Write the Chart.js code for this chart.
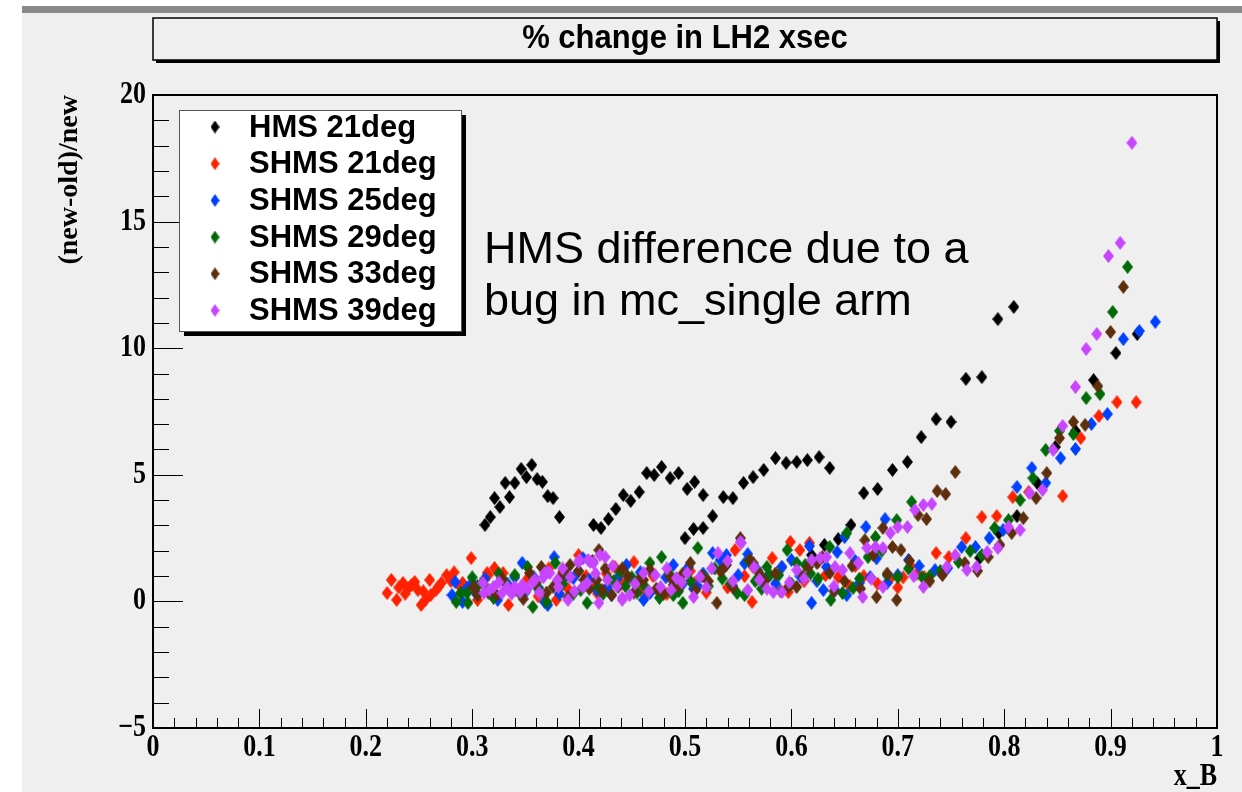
<!DOCTYPE html>
<html>
<head>
<meta charset="utf-8">
<script src="https://cdn.jsdelivr.net/npm/chart.js@4.4.1/dist/chart.umd.min.js"></script>
<style>
  html, body { margin: 0; padding: 0; background: #ffffff; overflow: hidden; }
  canvas { display: block; }
</style>
</head>
<body>
<canvas id="c" width="1242" height="792"></canvas>
<script>
// ---- values: relative change (new-old)/new versus x_B ----
const seriesNames = ['HMS 21deg', 'SHMS 21deg', 'SHMS 25deg', 'SHMS 29deg', 'SHMS 33deg', 'SHMS 39deg'];

const hmsX = [0.312,0.317,0.321,0.326,0.331,0.335,0.340,0.346,0.351,0.356,0.361,0.366,0.371,0.376,0.382,
  0.414,0.421,0.428,0.435,0.442,0.449,0.457,0.464,0.471,0.478,0.486,0.494,0.502,0.509,0.517,
  0.500,0.508,0.517,0.526,0.536,0.545,0.555,0.564,0.574,0.585,0.595,0.605,0.615,0.626,0.636,
  0.619,0.631,0.644,0.656,0.668,0.681,0.695,0.709,0.722,0.736,0.750,0.764,0.779,0.794,0.809,
  0.777,0.795,0.812,0.831,0.848,0.867,0.884,0.905,0.925];
const hmsY = [3.02,3.33,4.08,3.73,4.68,4.12,4.68,5.23,4.91,5.39,4.83,4.72,4.16,4.08,3.33,
  3.02,2.90,3.25,3.65,4.20,3.97,4.32,5.07,4.99,5.31,4.87,5.07,4.44,4.72,4.20,
  2.50,2.86,2.90,3.37,4.12,4.08,4.68,4.91,5.19,5.66,5.47,5.51,5.58,5.70,5.27,
  1.83,2.23,2.46,3.02,4.28,4.44,5.19,5.51,6.49,7.20,7.09,8.79,8.86,11.15,11.63,
  1.72,2.70,3.37,4.68,6.10,6.73,8.74,9.81,10.56];

const shms21X = [0.220,0.224,0.229,0.235,0.240,0.246,0.249,0.252,0.256,0.260,0.261,0.266,0.271,0.276,
  0.289,0.291,0.299,0.305,0.314,0.315,0.321,0.329,0.334,0.352,0.362,0.372,0.379,0.390,0.400,0.407,
  0.418,0.426,0.434,0.440,0.446,0.458,0.470,0.483,0.495,0.509,0.520,0.533,0.547,0.563,0.564,0.575,
  0.582,0.591,0.597,0.599,0.608,0.617,0.632,0.644,0.655,0.668,0.681,0.693,0.705,0.718,0.736,0.748,
  0.764,0.779,0.793,0.808,0.823,0.855,0.872,0.889,0.906,0.924,
  0.231,0.237,0.243,0.254,0.268,0.280,0.283,0.345,0.385,0.412,0.452,0.465,0.505,0.540,0.556,
  0.612,0.625,0.660,0.700,0.712,0.725,0.740];
const shms21Y = [0.33,0.85,0.06,0.73,0.53,0.77,0.45,-0.14,0.06,0.85,0.25,0.45,0.73,1.04,
  0.57,0.73,1.71,0.06,1.12,1.04,1.32,1.12,-0.14,0.90,0.20,1.30,0.06,0.50,1.83,1.00,
  0.30,1.10,1.36,0.70,0.85,0.45,1.00,0.30,0.80,0.73,0.35,1.20,2.03,-0.02,1.36,0.85,
  1.71,1.36,0.37,2.35,2.03,2.31,1.04,0.96,0.60,1.00,0.70,0.90,0.95,1.10,1.91,1.75,
  2.50,3.33,3.37,4.12,4.32,4.16,6.45,7.32,7.87,7.87,
  0.55,0.30,0.65,0.40,0.57,0.80,1.15,0.45,1.15,0.60,1.55,0.35,1.20,0.55,1.00,
  0.80,1.55,1.40,0.55,1.40,0.95,1.15];

const shms25X = [0.281,0.284,0.291,0.295,0.303,0.312,0.324,0.333,0.347,0.350,0.358,0.368,0.371,0.377,
  0.387,0.395,0.404,0.417,0.427,0.431,0.445,0.452,0.461,0.467,0.477,0.489,0.498,0.508,0.517,0.526,
  0.533,0.539,0.550,0.559,0.568,0.577,0.591,0.600,0.617,0.619,0.630,0.633,0.641,0.643,0.650,0.652,
  0.664,0.670,0.674,0.688,0.690,0.700,0.710,0.735,0.747,0.760,0.773,0.786,0.799,0.812,0.826,0.839,
  0.853,0.867,0.882,0.897,0.912,0.927,0.942,
  0.300,0.318,0.340,0.362,0.382,0.400,0.410,0.437,0.458,0.482,0.503,0.512,0.545,0.556,0.585,
  0.608,0.624,0.660,0.680,0.720];
const shms25Y = [0.25,0.77,-0.02,0.53,0.35,0.90,0.06,0.70,1.52,0.37,0.95,-0.02,-0.14,1.75,
  0.96,0.92,1.71,0.45,0.57,0.25,1.44,0.80,0.06,0.33,0.37,1.44,0.70,0.50,1.10,1.91,
  1.64,1.83,1.04,1.87,1.24,0.96,1.36,1.64,2.19,-0.06,0.45,1.36,0.45,1.95,2.54,0.25,
  0.73,2.94,0.96,3.25,0.73,1.04,1.64,1.24,1.32,2.15,2.15,2.50,2.82,4.52,5.27,4.68,
  5.66,6.02,7.01,7.40,10.36,10.68,11.04,
  0.75,0.40,0.95,0.55,0.30,1.20,0.85,0.95,1.15,0.95,1.35,0.60,0.60,1.50,0.70,
  1.00,0.80,1.60,1.70,1.40];

const shms29X = [0.285,0.289,0.295,0.296,0.305,0.320,0.330,0.340,0.352,0.357,0.362,0.370,0.378,0.385,
  0.395,0.408,0.418,0.428,0.439,0.444,0.455,0.467,0.476,0.478,0.489,0.498,0.505,0.512,0.522,0.535,
  0.549,0.556,0.566,0.577,0.580,0.588,0.596,0.605,0.613,0.625,0.636,0.637,0.648,0.652,0.658,0.672,
  0.679,0.690,0.699,0.700,0.713,0.723,0.740,0.757,0.768,0.779,0.791,0.804,0.815,0.827,0.839,0.852,
  0.865,0.877,0.890,0.902,0.916,
  0.300,0.315,0.325,0.345,0.390,0.402,0.423,0.433,0.450,0.462,0.485,0.494,0.517,0.528,0.543,
  0.560,0.572,0.600,0.618,0.664,0.685,0.710,0.730];
const shms29Y = [-0.02,0.33,0.33,-0.06,0.60,0.14,0.80,1.04,1.36,-0.22,0.50,-0.02,1.52,0.70,
  0.30,-0.06,0.57,0.90,1.16,0.60,0.35,1.52,0.14,1.75,0.25,-0.06,0.80,2.11,0.60,0.90,
  0.33,0.25,0.80,1.36,1.04,1.04,2.03,1.52,1.44,0.90,2.15,0.06,0.33,2.70,0.53,1.75,
  2.54,1.04,3.21,0.96,3.93,0.96,1.20,1.56,1.99,1.83,2.90,3.21,4.00,4.87,5.98,6.73,
  6.61,8.03,8.19,11.43,13.21,
  0.95,0.45,1.10,0.30,1.05,0.45,0.30,0.80,0.95,0.60,1.10,0.40,1.00,1.30,0.70,
  1.60,0.50,0.70,1.10,0.90,2.00,1.30,1.00];

const shms33X = [0.301,0.305,0.310,0.323,0.333,0.340,0.348,0.354,0.365,0.376,0.382,0.390,0.392,0.400,
  0.410,0.417,0.419,0.425,0.431,0.437,0.446,0.458,0.461,0.473,0.486,0.489,0.494,0.505,0.516,0.530,
  0.539,0.552,0.561,0.564,0.575,0.585,0.597,0.605,0.616,0.624,0.629,0.636,0.650,0.665,0.669,0.677,
  0.680,0.686,0.695,0.699,0.703,0.719,0.727,0.737,0.742,0.745,0.754,0.763,0.775,0.785,0.796,0.807,
  0.818,0.830,0.840,0.852,0.865,0.876,0.888,0.900,0.912,
  0.315,0.328,0.360,0.370,0.386,0.405,0.413,0.422,0.441,0.452,0.467,0.480,0.498,0.510,0.522,
  0.534,0.545,0.570,0.590,0.611,0.640,0.657,0.690,0.711,0.730];
const shms33Y = [0.57,0.25,0.75,0.25,0.57,0.45,0.10,1.12,1.36,0.57,0.90,0.17,1.44,1.20,
  0.50,0.85,2.03,1.30,0.25,0.57,1.00,0.92,0.85,0.50,0.96,0.65,0.57,1.52,1.00,-0.06,
  1.44,2.50,1.64,1.52,0.80,1.10,0.57,0.57,1.36,1.52,1.75,1.12,0.80,0.50,2.42,1.83,
  0.17,2.90,2.15,0.06,2.03,3.41,3.25,4.36,1.04,4.24,5.11,1.52,1.20,1.75,2.23,2.70,
  3.29,4.08,5.07,6.45,7.09,6.97,8.50,10.64,12.42,
  0.35,0.90,0.75,0.35,1.20,0.85,1.60,0.45,1.30,0.35,1.25,0.30,1.10,0.45,0.80,
  1.20,0.55,1.10,0.40,1.00,0.40,1.40,1.10,1.60,0.80];

const shms39X = [0.310,0.311,0.320,0.328,0.333,0.340,0.345,0.347,0.357,0.359,0.367,0.368,0.371,0.373,
  0.380,0.381,0.390,0.392,0.400,0.401,0.404,0.408,0.409,0.411,0.414,0.419,0.420,0.425,0.427,0.441,
  0.441,0.448,0.461,0.472,0.477,0.492,0.502,0.508,0.514,0.531,0.540,0.552,0.553,0.559,0.570,0.583,
  0.591,0.605,0.612,0.619,0.627,0.633,0.641,0.648,0.655,0.663,0.667,0.671,0.679,0.686,0.686,0.693,
  0.700,0.709,0.716,0.724,0.724,0.732,0.746,0.754,0.765,0.774,0.784,0.794,0.804,0.815,0.824,0.836,
  0.846,0.855,0.867,0.877,0.887,0.898,0.909,0.920,
  0.316,0.325,0.337,0.352,0.363,0.385,0.396,0.416,0.432,0.436,0.453,0.466,0.483,0.487,0.497,
  0.520,0.525,0.545,0.565,0.577,0.598,0.640,0.675,0.715];
const shms39Y = [0.73,0.33,0.57,0.33,0.57,0.57,0.37,0.65,0.77,0.85,0.96,1.12,1.16,1.12,
  0.85,0.57,0.06,0.96,1.56,1.64,0.57,0.73,1.64,1.56,1.52,-0.06,1.83,1.75,0.85,0.14,
  0.06,0.25,1.12,1.04,0.57,0.92,1.12,0.17,0.96,1.91,1.60,2.35,2.31,0.45,0.85,0.37,
  0.37,1.24,0.90,1.64,1.71,1.75,1.36,1.24,1.91,1.52,0.17,2.11,2.15,2.11,0.57,2.70,
  2.94,2.94,3.61,3.81,0.57,3.85,1.36,1.83,1.24,1.36,1.95,2.11,2.94,2.82,4.28,4.40,
  5.98,6.93,8.47,9.97,10.56,13.64,14.16,18.11,
  0.45,0.75,0.30,0.50,0.35,1.30,0.40,1.10,1.40,0.60,0.70,0.40,1.30,0.45,0.75,
  0.55,1.30,0.80,1.35,0.50,0.75,0.60,0.90,1.00];

const xTickValues = [0, 0.1, 0.2, 0.3, 0.4, 0.5, 0.6, 0.7, 0.8, 0.9, 1];
const xTickLabels = ['0', '0.1', '0.2', '0.3', '0.4', '0.5', '0.6', '0.7', '0.8', '0.9', '1'];
const yTickValues = [-5, 0, 5, 10, 15, 20];
const yTickLabels = ['\u22125', '0', '5', '10', '15', '20'];

const titleText = '% change in LH2 xsec';
const xTitle = 'x_B';
const yTitle = '(new-old)/new';
const noteLines = ['HMS difference due to a', 'bug in mc_single arm'];

// ---- styling ----
const palette = ['#000000', '#ff2200', '#0040ff', '#006a08', '#5e2f0c', '#c846ff'];
const PANEL = '#efefef';
const LEGEND_FONT = "bold 31px 'Liberation Sans', Arial, sans-serif";
const TITLE_FONT = "bold 31px 'Liberation Sans', Arial, sans-serif";
const AXIS_FONT = "bold 26px 'Liberation Serif', 'Times New Roman', serif";
const YTITLE_FONT = "bold 28px 'Liberation Serif', 'Times New Roman', serif";
const NOTE_FONT = "45px 'Liberation Sans', Arial, sans-serif";

function diamond(color, w, h) {
  const c = document.createElement('canvas');
  c.width = w; c.height = h;
  const g = c.getContext('2d');
  g.fillStyle = color;
  g.beginPath();
  g.moveTo(w / 2, 0); g.lineTo(w, h / 2); g.lineTo(w / 2, h); g.lineTo(0, h / 2);
  g.closePath(); g.fill();
  return c;
}
const markers = palette.map(c => diamond(c, 11, 14));
const legendMarkers = palette.map(c => diamond(c, 9, 13));

function pairs(xs, ys) { return xs.map((x, i) => ({ x: x, y: ys[i] })); }
const seriesData = [
  pairs(hmsX, hmsY), pairs(shms21X, shms21Y), pairs(shms25X, shms25Y),
  pairs(shms29X, shms29Y), pairs(shms33X, shms33Y), pairs(shms39X, shms39Y)
];

// text helper with optional vertical stretch
function text(ctx, str, x, y, font, align, baseline, sy) {
  ctx.save();
  ctx.font = font; ctx.textAlign = align; ctx.textBaseline = baseline;
  ctx.fillStyle = '#000';
  ctx.translate(x, y);
  ctx.scale(1, sy || 1);
  ctx.fillText(str, 0, 0);
  ctx.restore();
}

const rootFrame = {
  id: 'rootFrame',
  beforeDraw(chart) {
    const ctx = chart.ctx;
    ctx.save();
    ctx.fillStyle = '#ffffff';
    ctx.fillRect(0, 0, chart.width, chart.height);
    ctx.fillStyle = PANEL;
    ctx.fillRect(22, 13, chart.width - 22, chart.height - 13);
    ctx.fillStyle = '#8a8a8a';
    ctx.fillRect(22, 6, chart.width - 22, 7);

    // title pave with shadow
    const a = chart.chartArea;
    ctx.fillStyle = '#000';
    ctx.fillRect(a.left + 3, 21, a.right - a.left, 42);
    ctx.fillStyle = PANEL;
    ctx.fillRect(a.left, 18, a.right - a.left, 42);
    ctx.strokeStyle = '#000'; ctx.lineWidth = 1.5;
    ctx.strokeRect(a.left, 18, a.right - a.left, 42);
    ctx.restore();
    text(ctx, titleText, (a.left + a.right) / 2, 39, TITLE_FONT, 'center', 'middle', 1.05);
  },
  afterDatasetsDraw(chart) {
    const ctx = chart.ctx;
    const a = chart.chartArea;
    const xs = chart.scales.x, ys = chart.scales.y;
    ctx.save();
    ctx.strokeStyle = '#000';
    ctx.lineWidth = 1;
    ctx.beginPath();
    // x ticks: major every 0.1, minor every 0.02
    for (let i = 0; i <= 50; i++) {
      const px = Math.round(xs.getPixelForValue(i / 50)) + 0.5;
      const len = (i % 5 === 0) ? 19 : 10;
      ctx.moveTo(px, a.bottom); ctx.lineTo(px, a.bottom - len);
    }
    // y ticks: major every 5, minor every 1
    for (let v = -5; v <= 20; v++) {
      const py = Math.round(ys.getPixelForValue(v)) + 0.5;
      const len = (v % 5 === 0) ? 30 : 16;
      ctx.moveTo(a.left, py); ctx.lineTo(a.left + len, py);
    }
    ctx.stroke();
    ctx.lineWidth = 2;
    ctx.strokeRect(a.left, a.top, a.right - a.left, a.bottom - a.top);
    ctx.restore();

    // tick labels
    xTickValues.forEach((v, i) => {
      text(ctx, xTickLabels[i], xs.getPixelForValue(v), 748, AXIS_FONT, 'center', 'middle', 1.2);
    });
    yTickValues.forEach((v, i) => {
      text(ctx, yTickLabels[i], a.left - 7, ys.getPixelForValue(v), AXIS_FONT, 'right', 'middle', 1.2);
    });
    text(ctx, xTitle, a.right, 777, AXIS_FONT, 'right', 'middle', 1.2);
    ctx.save();
    ctx.translate(70, a.top);
    ctx.rotate(-Math.PI / 2);
    text(ctx, yTitle, 0, 0, YTITLE_FONT, 'right', 'middle', 1.0);
    ctx.restore();

    // legend pave
    const L = { x: 179, y: 110, w: 282, h: 221 };
    ctx.save();
    ctx.fillStyle = '#000';
    ctx.fillRect(L.x + 5, L.y + 5, L.w, L.h);
    ctx.fillStyle = '#ffffff';
    ctx.fillRect(L.x, L.y, L.w, L.h);
    ctx.strokeStyle = '#555'; ctx.lineWidth = 1;
    ctx.strokeRect(L.x + 0.5, L.y + 0.5, L.w, L.h);
    ctx.restore();
    chart.data.datasets.forEach((ds, i) => {
      const cy = 127 + i * 36.7;
      const m = legendMarkers[i];
      ctx.drawImage(m, 215 - m.width / 2, cy - m.height / 2);
      text(ctx, ds.label, 249, cy + 1, LEGEND_FONT, 'left', 'middle', 1);
    });

    // note
    noteLines.forEach((s, i) => {
      text(ctx, s, 484, 263 + i * 52, NOTE_FONT, 'left', 'alphabetic', 1);
    });
  }
};

const datasets = seriesNames.map((name, i) => ({
  label: name,
  data: seriesData[i],
  pointStyle: markers[i],
  pointRadius: 6,
  pointHoverRadius: 6,
  backgroundColor: palette[i],
  borderColor: palette[i],
  showLine: false,
  order: seriesNames.length - i
}));
// HMS drawn beneath the SHMS settings
datasets[0].order = 10;

new Chart(document.getElementById('c'), {
  type: 'scatter',
  data: { datasets: datasets },
  options: {
    responsive: false,
    animation: false,
    devicePixelRatio: 1,
    layout: { padding: { left: 153, top: 95, right: 25, bottom: 64 } },
    scales: {
      x: { type: 'linear', min: 0, max: 1, display: false },
      y: { type: 'linear', min: -5, max: 20, display: false }
    },
    plugins: {
      legend: { display: false },
      tooltip: { enabled: false },
      title: { display: false }
    },
    events: []
  },
  plugins: [rootFrame]
});
</script>
</body>
</html>
